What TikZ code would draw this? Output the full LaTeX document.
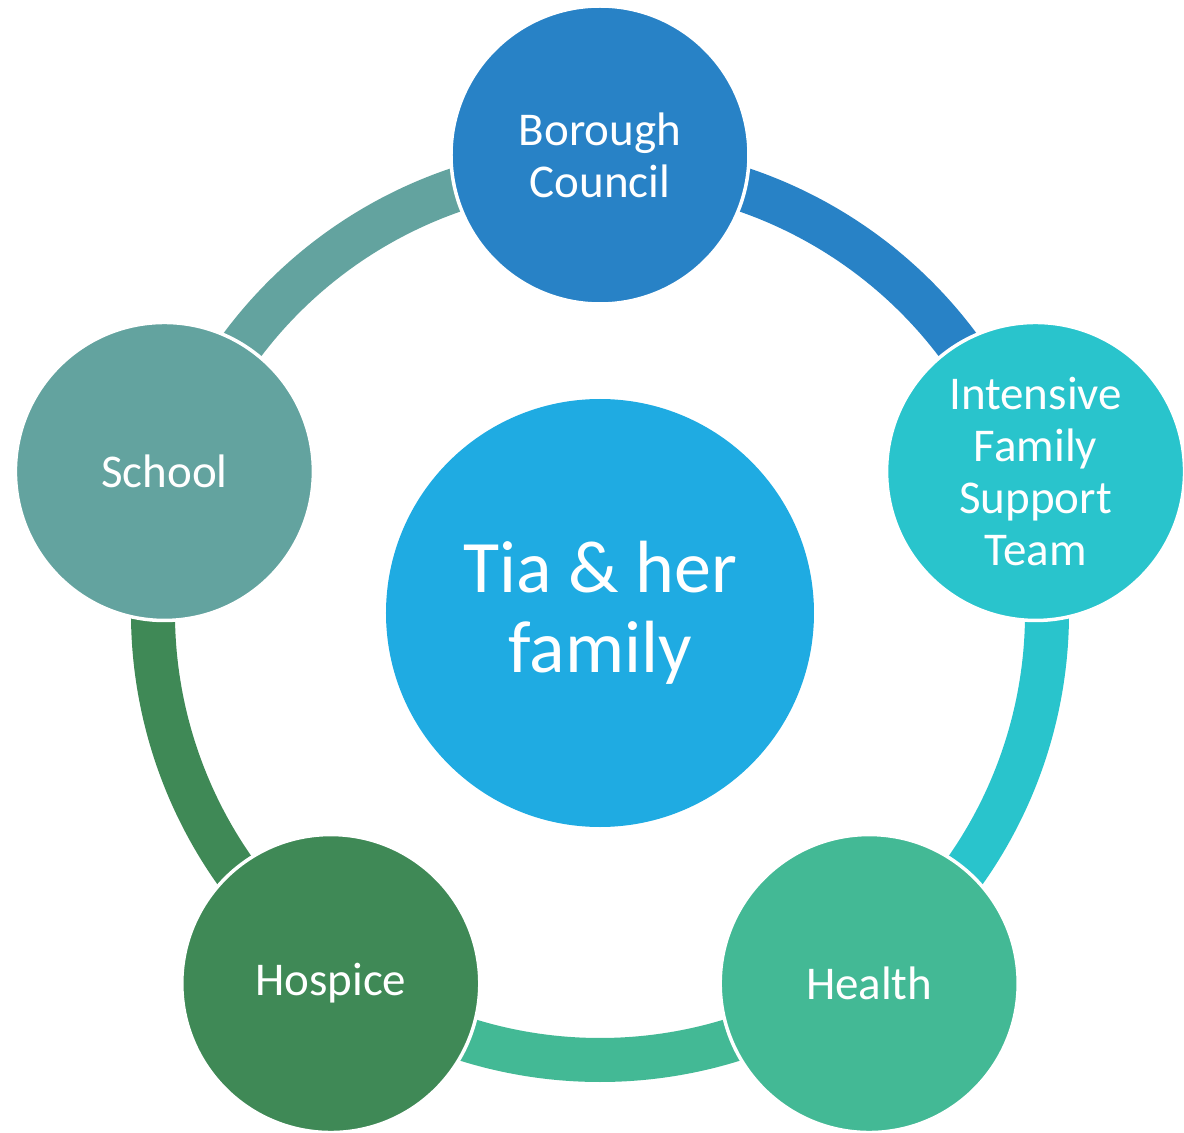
\documentclass[tikz,border=0pt]{standalone}
\usepackage{fontspec}
\setmainfont{Carlito}
\usetikzlibrary{positioning}

\definecolor{councilblue}{RGB}{40,130,198}
\definecolor{ifstteal}{RGB}{41,196,204}
\definecolor{healthgreen}{RGB}{67,185,149}
\definecolor{hospicegreen}{RGB}{63,137,86}
\definecolor{schoolteal}{RGB}{99,163,159}
\definecolor{familyblue}{RGB}{31,171,226}

\tikzset{
    partner/.style={circle, draw=white, line width=3.5pt, minimum size=298pt,
        inner sep=0pt, text=white, align=center,
        font=\fontsize{47}{52}\selectfont},
    family/.style={circle, fill=familyblue, minimum size=428pt, inner sep=0pt,
        text=white, align=center, font=\fontsize{74}{80}\selectfont},
    link/.style={line width=44pt}
}

\begin{document}
\begin{tikzpicture}[x=1pt, y=1pt]
        \useasboundingbox (-600,-520) rectangle (584,613);
        \node[family] (tia) at (0,0) {Tia \& her\\family};

        % ring between the partners
        \draw[link, councilblue]  (tia.center) ++(90:447)  arc[start angle=90,  delta angle=-72, radius=447];
        \draw[link, ifstteal]     (tia.center) ++(18:447)  arc[start angle=18,  delta angle=-72, radius=447];
        \draw[link, healthgreen]  (tia.center) ++(-54:447) arc[start angle=-54, delta angle=-72, radius=447];
        \draw[link, hospicegreen] (tia.center) ++(234:447) arc[start angle=234, delta angle=-72, radius=447];
        \draw[link, schoolteal]   (tia.center) ++(162:447) arc[start angle=162, delta angle=-72, radius=447];

        \node[partner, fill=councilblue]  (council)  at (90:458)  {Borough\\Council};
        \node[partner, fill=ifstteal]     (ifst)     at (18:458)  {Intensive\\Family\\Support\\Team};
        \node[partner, fill=healthgreen]  (health)   at (-54:458) {Health};
        \node[partner, fill=hospicegreen] (hospice)  at (234:458) {Hospice};
        \node[partner, fill=schoolteal]   (school)   at (162:458) {School};
\end{tikzpicture}
\end{document}
